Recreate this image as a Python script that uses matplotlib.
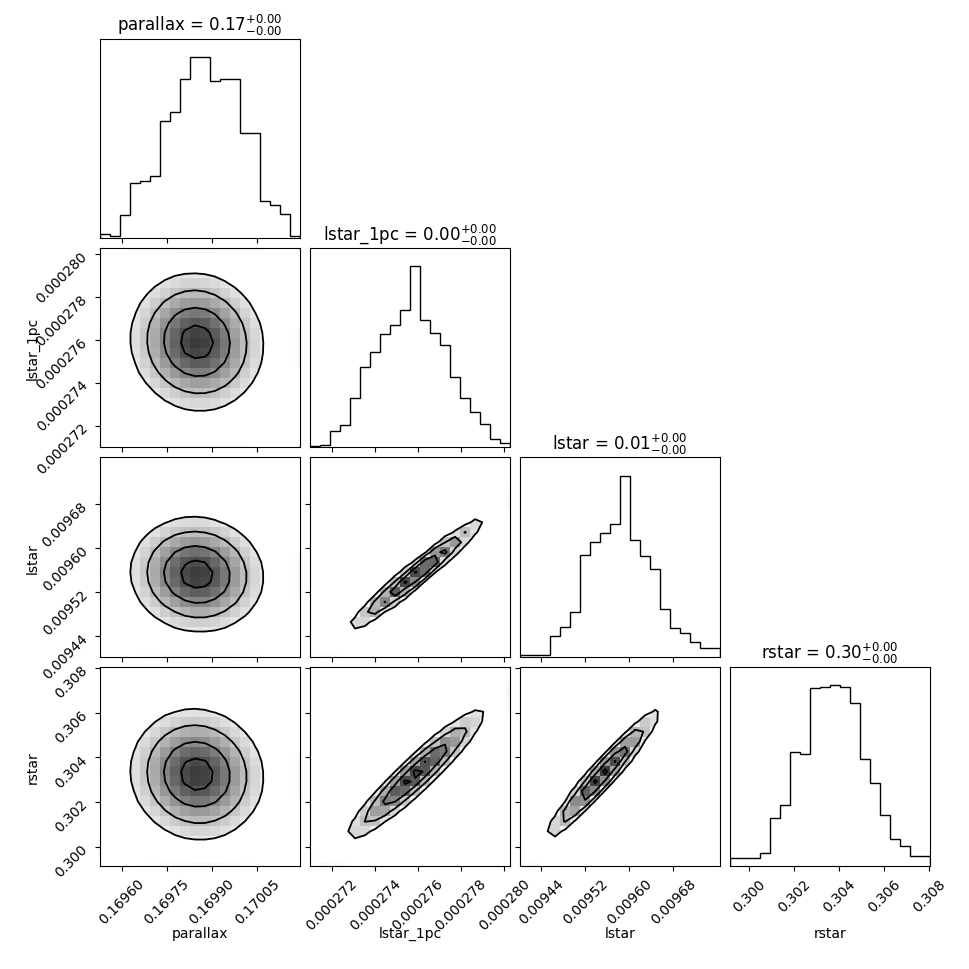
import numpy as np
import matplotlib
matplotlib.use("Agg")
import matplotlib.pyplot as plt

labels = ["parallax", "lstar_1pc", "lstar", "rstar"]
titles = [r"parallax = $0.17_{-0.00}^{+0.00}$", r"lstar_1pc = $0.00_{-0.00}^{+0.00}$",
          r"lstar = $0.01_{-0.00}^{+0.00}$", r"rstar = $0.30_{-0.00}^{+0.00}$"]
ranges = [(0.169527, 0.170193), (0.000270977, 0.00028028), (0.009402, 0.009765), (0.299156, 0.30804)]
ticks = [[0.16960, 0.16975, 0.16990, 0.17005],
         [0.000272, 0.000274, 0.000276, 0.000278, 0.000280],
         [0.00944, 0.00952, 0.00960, 0.00968],
         [0.300, 0.302, 0.304, 0.306, 0.308]]
tick_fmt = ["%.5f", "%.6f", "%.5f", "%.3f"]

# 1D histogram counts (20 bins across each axis range)
hist_counts = [
    [4, 2, 23, 54, 56, 61, 116, 125, 157, 179, 179, 155, 157, 157, 104, 104, 37, 33, 24, 2],
    [2, 3, 22, 31, 67, 110, 130, 155, 167, 188, 247, 174, 156, 140, 96, 67, 49, 32, 12, 6],
    [2, 2, 2, 26, 37, 56, 127, 144, 155, 166, 227, 146, 126, 110, 60, 36, 30, 18, 11, 11],
    [8, 8, 8, 13, 47, 60, 112, 110, 175, 176, 178, 176, 160, 105, 82, 50, 27, 20, 10, 10],
]

# centre, spread and pairwise correlation
means = [0.16985, 0.0002759, 0.009552, 0.30325]
sigmas = [0.00011, 0.0000016, 0.000052, 0.00145]
corr = np.array([[1.0, -0.05, -0.05, -0.05],
                 [-0.05, 1.0, 0.97, 0.94],
                 [-0.05, 0.97, 1.0, 0.96],
                 [-0.05, 0.94, 0.96, 1.0]])

n = len(labels)
fig, axes = plt.subplots(n, n, figsize=(9.7, 9.7), dpi=100)
fig.subplots_adjust(left=0.103, right=0.959, bottom=0.106, top=0.959, wspace=0.05, hspace=0.05)

levels_sig = np.array([0.5, 1.0, 1.5, 2.0])
for i in range(n):
    for j in range(n):
        ax = axes[i, j]
        if j > i:
            ax.set_visible(False)
            continue
        if i == j:
            edges = np.linspace(ranges[i][0], ranges[i][1], len(hist_counts[i]) + 1)
            ax.stairs(hist_counts[i], edges, color="k", linewidth=1)
            ax.set_xlim(ranges[i])
            ax.set_ylim(0, max(hist_counts[i]) * 1.1)
            ax.set_yticks([])
            ax.set_title(titles[i], fontsize=12)
        else:
            # gaussian density on a 20x20 grid
            xe = np.linspace(*ranges[j], 21)
            ye = np.linspace(*ranges[i], 21)
            xc = 0.5 * (xe[1:] + xe[:-1])
            yc = 0.5 * (ye[1:] + ye[:-1])
            X, Y = np.meshgrid(xc, yc)
            r = corr[i, j]
            u = (X - means[j]) / sigmas[j]
            v = (Y - means[i]) / sigmas[i]
            q = (u ** 2 - 2 * r * u * v + v ** 2) / (1 - r ** 2)
            H = np.exp(-0.5 * q)
            lv = np.exp(-0.5 * levels_sig[::-1] ** 2)
            ax.pcolormesh(xe, ye, H, cmap="gray_r", vmin=0, vmax=1.3)
            ax.contourf(X, Y, H, levels=[0, lv[0]], colors="white")
            ax.contour(X, Y, H, levels=lv, colors="k", linewidths=1.3)
            ax.set_xlim(ranges[j])
            ax.set_ylim(ranges[i])
            ax.set_yticks(ticks[i])
            if j == 0:
                ax.set_yticklabels([tick_fmt[i] % t for t in ticks[i]], rotation=45)
                ax.set_ylabel(labels[i])
                ax.yaxis.set_label_coords(-0.3, 0.5)
            else:
                ax.set_yticklabels([])
        ax.set_xticks(ticks[j])
        if i == n - 1:
            ax.set_xticklabels([tick_fmt[j] % t for t in ticks[j]], rotation=45)
            ax.set_xlabel(labels[j])
            ax.xaxis.set_label_coords(0.5, -0.3)
        else:
            ax.set_xticklabels([])

fig.savefig("out.png", dpi=100)
